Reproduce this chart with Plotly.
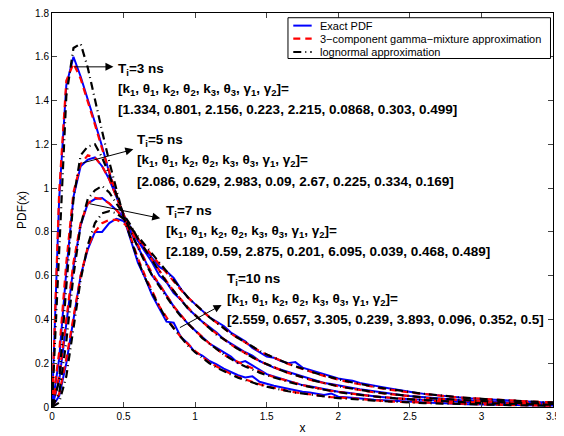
import plotly.graph_objects as go

# sample points (x) shared by every curve
x = [0.00, 0.05, 0.10, 0.15, 0.20, 0.25, 0.30, 0.35, 0.40, 0.45,
     0.50, 0.55, 0.60, 0.65, 0.70, 0.75, 0.80, 0.85, 0.90, 0.95,
     1.00, 1.05, 1.10, 1.15, 1.20, 1.25, 1.30, 1.35, 1.40, 1.45,
     1.50, 1.55, 1.60, 1.65, 1.70, 1.75, 1.80, 1.85, 1.90, 1.95,
     2.00, 2.05, 2.10, 2.15, 2.20, 2.25, 2.30, 2.35, 2.40, 2.45,
     2.50, 2.55, 2.60, 2.65, 2.70, 2.75, 2.80, 2.85, 2.90, 2.95,
     3.00, 3.05, 3.10, 3.15, 3.20, 3.25, 3.30, 3.35, 3.40, 3.45,
     3.50]

# Ti = 3 ns
exact_3 = [0, 0.95, 1.47, 1.60, 1.51, 1.41, 1.30, 1.19, 1.07, 0.97,
           0.87, 0.76, 0.66, 0.59, 0.51, 0.45, 0.39, 0.385, 0.32, 0.29,
           0.25, 0.235, 0.21, 0.195, 0.175, 0.16, 0.145, 0.135, 0.14, 0.115,
           0.105, 0.097, 0.09, 0.083, 0.078, 0.07, 0.066, 0.06, 0.055, 0.062,
           0.047, 0.045, 0.041, 0.038, 0.036, 0.033, 0.031, 0.028, 0.027, 0.025,
           0.023, 0.022, 0.02, 0.019, 0.018, 0.016, 0.016, 0.014, 0.013, 0.012,
           0.012, 0.011, 0.011, 0.010, 0.009, 0.009, 0.008, 0.008, 0.007, 0.007,
           0.007]
gamma_3 = [0, 0.98, 1.49, 1.57, 1.50, 1.40, 1.29, 1.18, 1.07, 0.97,
           0.87, 0.77, 0.68, 0.60, 0.53, 0.46, 0.41, 0.36, 0.32, 0.285,
           0.255, 0.23, 0.205, 0.185, 0.167, 0.151, 0.137, 0.125, 0.114, 0.104,
           0.095, 0.087, 0.080, 0.073, 0.067, 0.062, 0.057, 0.053, 0.049, 0.045,
           0.044, 0.041, 0.038, 0.035, 0.032, 0.030, 0.028, 0.026, 0.024, 0.023,
           0.021, 0.019, 0.018, 0.017, 0.016, 0.015, 0.014, 0.013, 0.012, 0.012,
           0.011, 0.010, 0.010, 0.009, 0.009, 0.008, 0.008, 0.007, 0.007, 0.007,
           0.006]
logn_3 = [0, 0.70, 1.42, 1.64, 1.66, 1.55, 1.40, 1.26, 1.12, 0.99,
          0.87, 0.77, 0.67, 0.59, 0.52, 0.46, 0.40, 0.36, 0.32, 0.28,
          0.25, 0.225, 0.20, 0.18, 0.163, 0.148, 0.134, 0.122, 0.111, 0.101,
          0.093, 0.085, 0.078, 0.072, 0.066, 0.061, 0.056, 0.052, 0.048, 0.044,
          0.041, 0.038, 0.036, 0.033, 0.031, 0.029, 0.027, 0.025, 0.023, 0.022,
          0.020, 0.019, 0.018, 0.017, 0.016, 0.015, 0.014, 0.013, 0.012, 0.011,
          0.011, 0.010, 0.010, 0.009, 0.009, 0.008, 0.008, 0.007, 0.007, 0.007,
          0.006]

# Ti = 5 ns
exact_5 = [0, 0.22, 0.62, 0.96, 1.10, 1.13, 1.14, 1.10, 1.04, 0.96,
           0.88, 0.80, 0.73, 0.67, 0.60, 0.56, 0.51, 0.46, 0.42, 0.38,
           0.35, 0.32, 0.29, 0.27, 0.25, 0.23, 0.20, 0.21, 0.19, 0.17,
           0.15, 0.14, 0.13, 0.12, 0.11, 0.10, 0.095, 0.088, 0.082, 0.076,
           0.07, 0.066, 0.061, 0.057, 0.053, 0.049, 0.046, 0.042, 0.040, 0.038,
           0.036, 0.033, 0.031, 0.029, 0.027, 0.025, 0.024, 0.022, 0.021, 0.020,
           0.019, 0.018, 0.016, 0.015, 0.014, 0.013, 0.012, 0.012, 0.011, 0.010,
           0.010]
gamma_5 = [0, 0.25, 0.66, 0.98, 1.11, 1.15, 1.14, 1.10, 1.04, 0.96,
           0.88, 0.81, 0.74, 0.67, 0.61, 0.56, 0.51, 0.46, 0.42, 0.38,
           0.35, 0.32, 0.29, 0.265, 0.24, 0.22, 0.205, 0.19, 0.175, 0.16,
           0.148, 0.137, 0.127, 0.117, 0.108, 0.10, 0.093, 0.086, 0.08, 0.074,
           0.069, 0.064, 0.06, 0.056, 0.052, 0.048, 0.045, 0.042, 0.039, 0.037,
           0.035, 0.032, 0.030, 0.028, 0.027, 0.025, 0.023, 0.022, 0.021, 0.019,
           0.018, 0.017, 0.016, 0.015, 0.014, 0.013, 0.013, 0.012, 0.011, 0.011,
           0.010]
logn_5 = [0, 0.12, 0.55, 0.95, 1.15, 1.19, 1.20, 1.14, 1.06, 0.97,
          0.88, 0.80, 0.73, 0.66, 0.60, 0.55, 0.50, 0.455, 0.415, 0.38,
          0.345, 0.315, 0.29, 0.265, 0.24, 0.22, 0.20, 0.185, 0.17, 0.157,
          0.145, 0.134, 0.124, 0.115, 0.106, 0.098, 0.091, 0.085, 0.079, 0.073,
          0.068, 0.063, 0.059, 0.055, 0.051, 0.048, 0.045, 0.042, 0.039, 0.037,
          0.034, 0.032, 0.030, 0.028, 0.026, 0.025, 0.023, 0.022, 0.020, 0.019,
          0.018, 0.017, 0.016, 0.015, 0.014, 0.013, 0.013, 0.012, 0.011, 0.011,
          0.010]

# Ti = 7 ns
exact_7 = [0, 0.12, 0.38, 0.64, 0.83, 0.93, 0.95, 0.955, 0.93, 0.90,
           0.87, 0.82, 0.76, 0.71, 0.66, 0.60, 0.57, 0.52, 0.49, 0.45,
           0.42, 0.39, 0.365, 0.34, 0.31, 0.29, 0.27, 0.25, 0.235, 0.21,
           0.195, 0.18, 0.17, 0.16, 0.15, 0.14, 0.13, 0.12, 0.11, 0.105,
           0.10, 0.093, 0.087, 0.081, 0.076, 0.071, 0.066, 0.062, 0.058, 0.054,
           0.05, 0.047, 0.044, 0.041, 0.038, 0.036, 0.034, 0.031, 0.029, 0.028,
           0.026, 0.024, 0.023, 0.021, 0.020, 0.019, 0.018, 0.017, 0.016, 0.015,
           0.014]
gamma_7 = [0, 0.14, 0.40, 0.66, 0.84, 0.93, 0.955, 0.95, 0.93, 0.90,
           0.86, 0.82, 0.77, 0.72, 0.67, 0.62, 0.575, 0.53, 0.49, 0.455,
           0.42, 0.39, 0.36, 0.335, 0.31, 0.285, 0.265, 0.245, 0.227, 0.21,
           0.195, 0.18, 0.168, 0.156, 0.145, 0.135, 0.125, 0.117, 0.109, 0.102,
           0.095, 0.089, 0.083, 0.077, 0.072, 0.067, 0.063, 0.059, 0.055, 0.051,
           0.048, 0.045, 0.042, 0.039, 0.037, 0.035, 0.032, 0.030, 0.029, 0.027,
           0.025, 0.024, 0.022, 0.021, 0.020, 0.019, 0.018, 0.017, 0.016, 0.015,
           0.014]
logn_7 = [0, 0.06, 0.30, 0.60, 0.83, 0.95, 0.99, 1.01, 0.98, 0.93,
          0.88, 0.83, 0.77, 0.72, 0.67, 0.62, 0.57, 0.53, 0.49, 0.45,
          0.42, 0.39, 0.36, 0.33, 0.31, 0.285, 0.265, 0.245, 0.227, 0.21,
          0.195, 0.181, 0.168, 0.156, 0.145, 0.135, 0.126, 0.117, 0.109, 0.102,
          0.095, 0.089, 0.083, 0.078, 0.073, 0.068, 0.064, 0.060, 0.056, 0.052,
          0.049, 0.046, 0.043, 0.040, 0.038, 0.035, 0.033, 0.031, 0.029, 0.028,
          0.026, 0.024, 0.023, 0.022, 0.020, 0.019, 0.018, 0.017, 0.016, 0.015,
          0.014]

# Ti = 10 ns
exact_10 = [0, 0.05, 0.20, 0.40, 0.60, 0.72, 0.80, 0.80, 0.84, 0.86,
            0.85, 0.80, 0.76, 0.72, 0.68, 0.64, 0.62, 0.59, 0.54, 0.50,
            0.47, 0.44, 0.41, 0.39, 0.37, 0.34, 0.32, 0.30, 0.27, 0.25,
            0.23, 0.225, 0.21, 0.20, 0.205, 0.18, 0.17, 0.16, 0.15, 0.14,
            0.13, 0.125, 0.12, 0.11, 0.105, 0.098, 0.092, 0.086, 0.08, 0.075,
            0.068, 0.064, 0.06, 0.056, 0.055, 0.049, 0.046, 0.043, 0.040, 0.038,
            0.036, 0.034, 0.032, 0.030, 0.028, 0.027, 0.025, 0.024, 0.022, 0.021,
            0.020]
gamma_10 = [0, 0.06, 0.22, 0.42, 0.60, 0.73, 0.80, 0.84, 0.855, 0.855,
            0.84, 0.81, 0.77, 0.73, 0.69, 0.65, 0.61, 0.57, 0.535, 0.50,
            0.47, 0.44, 0.41, 0.385, 0.36, 0.335, 0.315, 0.295, 0.275, 0.255,
            0.24, 0.225, 0.21, 0.197, 0.185, 0.173, 0.162, 0.152, 0.142, 0.133,
            0.125, 0.117, 0.11, 0.103, 0.097, 0.091, 0.085, 0.08, 0.075, 0.071,
            0.066, 0.062, 0.059, 0.055, 0.052, 0.049, 0.046, 0.043, 0.041, 0.038,
            0.036, 0.034, 0.032, 0.030, 0.029, 0.027, 0.026, 0.024, 0.023, 0.022,
            0.021]
logn_10 = [0, 0.02, 0.14, 0.36, 0.58, 0.74, 0.84, 0.885, 0.895, 0.885,
           0.86, 0.82, 0.78, 0.74, 0.70, 0.655, 0.615, 0.575, 0.54, 0.50,
           0.47, 0.44, 0.41, 0.385, 0.36, 0.335, 0.315, 0.295, 0.275, 0.257,
           0.24, 0.225, 0.211, 0.198, 0.186, 0.174, 0.163, 0.153, 0.144, 0.135,
           0.127, 0.119, 0.112, 0.105, 0.099, 0.093, 0.087, 0.082, 0.077, 0.073,
           0.068, 0.064, 0.060, 0.057, 0.053, 0.050, 0.047, 0.044, 0.042, 0.039,
           0.037, 0.035, 0.033, 0.031, 0.029, 0.028, 0.026, 0.025, 0.023, 0.022,
           0.021]

exact = [exact_3, exact_5, exact_7, exact_10]
gamma = [gamma_3, gamma_5, gamma_7, gamma_10]
logn = [logn_3, logn_5, logn_7, logn_10]

# legend entries
legend_names = ["Exact PDF", "3\u2212component gamma\u2212mixture approximation", "lognormal approximation"]

# annotation text
ti_labels = ["T<sub>i</sub>=3 ns", "T<sub>i</sub>=5 ns", "T<sub>i</sub>=7 ns", "T<sub>i</sub>=10 ns"]
param_names = ("[k<sub>1</sub>, θ<sub>1</sub>, k<sub>2</sub>, θ<sub>2</sub>, k<sub>3</sub>, "
               "θ<sub>3</sub>, γ<sub>1</sub>, γ<sub>2</sub>]=")
param_values = ["[1.334, 0.801, 2.156, 0.223, 2.215, 0.0868, 0.303, 0.499]",
                "[2.086, 0.629, 2.983, 0.09, 2.67, 0.225, 0.334, 0.169]",
                "[2.189, 0.59, 2.875, 0.201, 6.095, 0.039, 0.468, 0.489]",
                "[2.559, 0.657, 3.305, 0.239, 3.893, 0.096, 0.352, 0.5]"]
label_x = [0.449, 0.583, 0.782, 1.210]
label_y = [1.543, 1.217, 0.895, 0.584]
arrow_from = [(0.147, 1.554), (0.202, 1.113), (0.252, 0.930), (0.883, 0.359)]
arrow_to = [(0.429, 1.554), (0.568, 1.177), (0.756, 0.862), (1.185, 0.466)]

colors = ["#0000ff", "#ff0000", "#000000"]
dashes = ["solid", "7px,5px", "8px,4px,1px,4px"]
widths = [2, 2.2, 2.2]

fig = go.Figure()

for k, series in enumerate([exact, gamma, logn]):
    for ys in series:
        fig.add_trace(go.Scatter(x=x, y=ys, mode="lines", name=legend_names[k],
                                 showlegend=False,
                                 line=dict(color=colors[k], width=widths[k], dash=dashes[k])))

font_bold = dict(family="Liberation Sans, Arial, sans-serif", size=13.5, color="black")
for i in range(4):
    lines = [ti_labels[i], param_names, param_values[i]]
    for j, t in enumerate(lines):
        fig.add_annotation(x=label_x[i], y=label_y[i] - j * 0.093, xref="x", yref="y",
                           text="<b>" + t + "</b>", showarrow=False,
                           xanchor="left", yanchor="middle", font=font_bold)
    fig.add_annotation(x=arrow_to[i][0], y=arrow_to[i][1], ax=arrow_from[i][0], ay=arrow_from[i][1],
                       xref="x", yref="y", axref="x", ayref="y", text="",
                       showarrow=True, arrowhead=2, arrowsize=1.6, arrowwidth=1,
                       arrowcolor="black")

# boxed legend in the top right corner (drawn by hand to get MATLAB-like compact rows)
fig.add_shape(type="rect", xref="paper", yref="paper", x0=0.471, x1=0.995, y0=0.8845, y1=0.988,
              line=dict(color="black", width=1), fillcolor="white", layer="above")
row_y = [0.968, 0.935, 0.901]
for k in range(3):
    fig.add_shape(type="line", xref="paper", yref="paper", x0=0.4816, x1=0.5183,
                  y0=row_y[k], y1=row_y[k], layer="above",
                  line=dict(color=colors[k], width=widths[k], dash=dashes[k]))
    fig.add_annotation(x=0.5303, y=row_y[k], xref="paper", yref="paper", text=legend_names[k],
                       showarrow=False, xanchor="left", yanchor="middle",
                       font=dict(family="Liberation Sans, Arial, sans-serif", size=11, color="black"))

# page body has an 8px margin, so the figure is a little smaller than the window
fig.update_layout(
    width=556, height=428,
    margin=dict(l=44, r=11, t=5, b=29),
    paper_bgcolor="white", plot_bgcolor="white",
    font=dict(family="Liberation Sans, Arial, sans-serif", size=10, color="black"),
    showlegend=False,
    xaxis=dict(range=[0, 3.5], dtick=0.5, ticks="inside", ticklen=5,
               showline=True, linecolor="black", linewidth=1, mirror="ticks",
               showgrid=False, zeroline=False, automargin=False, ticklabeloverflow="allow",
               title=dict(text="x", standoff=2)),
    yaxis=dict(range=[0, 1.8], dtick=0.2, ticks="inside", ticklen=5,
               showline=True, linecolor="black", linewidth=1, mirror="ticks",
               showgrid=False, zeroline=False, automargin=False, ticklabeloverflow="allow",
               title=dict(text="PDF(x)", standoff=5)),
)

fig.write_html("out.html")
